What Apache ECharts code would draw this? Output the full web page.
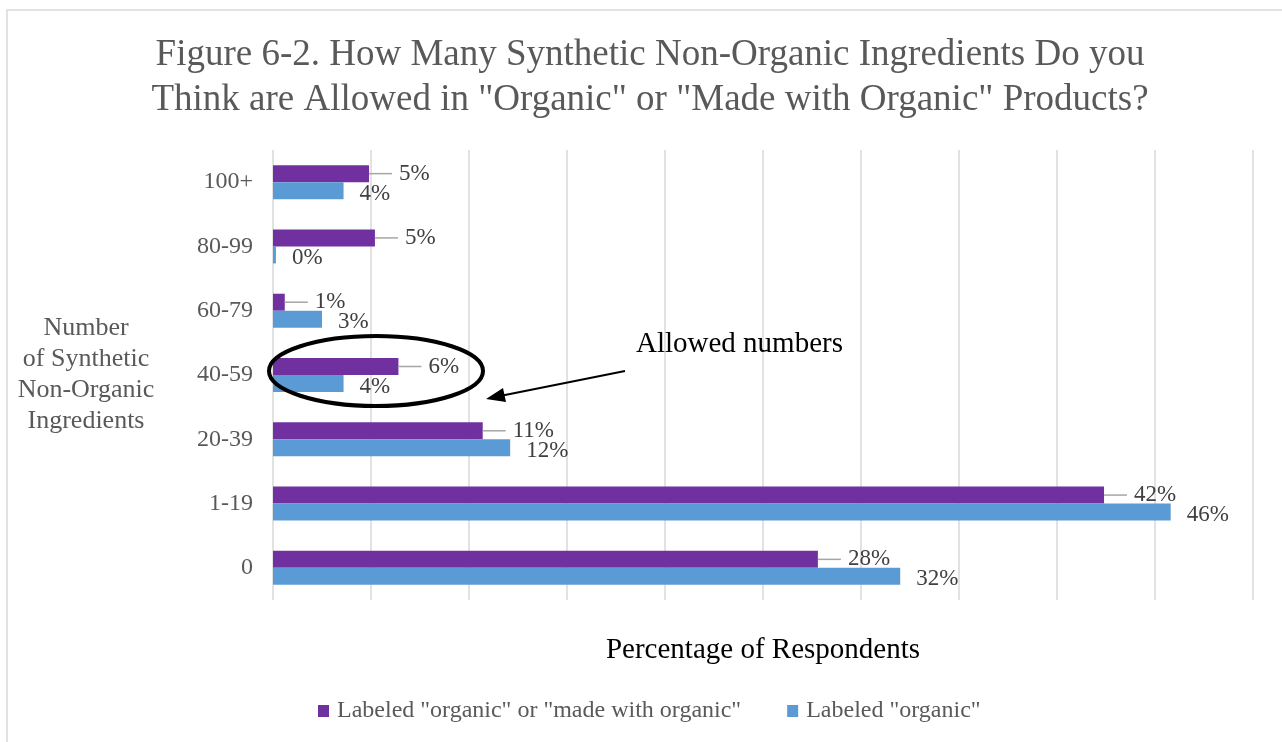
<!DOCTYPE html>
<html>
<head>
<meta charset="utf-8">
<script src="https://cdn.jsdelivr.net/npm/echarts@6/dist/echarts.min.js"></script>
<style>
  html, body { margin: 0; padding: 0; background: #fff; }
  #chart { width: 1282px; height: 742px; }
</style>
</head>
<body>
<div id="chart"></div>
<script>
// data (percent of respondents)
const categories = ['0', '1-19', '20-39', '40-59', '60-79', '80-99', '100+']
const madeWithOrganic = [27.8, 42.4, 10.7, 6.4, 0.6, 5.2, 4.9]
const labeledOrganic = [32.0, 45.8, 12.1, 3.6, 2.5, 0.15, 3.6]
const seriesNames = ['Labeled "organic" or "made with organic"', 'Labeled "organic"']

const FONT = '"Liberation Serif", "Times New Roman", serif'
const GREY_TEXT = '#595959'

const chart = echarts.init(document.getElementById('chart'))

const pct = p => Math.round(p.value) + '%'
// purple labels get a short grey leader line in front of the value
const leaderPct = p => '{ln|}{sp|}{v|' + Math.round(p.value) + '%}'

const option = {
  backgroundColor: '#fff',
  animation: false,
  title: {
    text: 'Figure 6-2. How Many Synthetic Non-Organic Ingredients Do you\nThink are Allowed in "Organic" or "Made with Organic" Products?',
    left: 645,
    textAlign: 'center',
    top: 28,
    textStyle: {
      fontFamily: FONT,
      fontSize: 37,
      fontWeight: 'normal',
      color: GREY_TEXT,
      lineHeight: 45,
    },
  },
  legend: {
    top: 694,
    left: 313,
    itemWidth: 11,
    itemHeight: 12,
    itemGap: 46,
    icon: 'rect',
    textStyle: { fontFamily: FONT, fontSize: 24, color: GREY_TEXT, padding: [0, 0, 0, 3] },
    data: seriesNames,
  },
  grid: {
    left: 273,
    right: 29,
    top: 150,
    bottom: 142,
  },
  xAxis: {
    type: 'value',
    min: 0,
    max: 50,
    interval: 5,
    name: 'Percentage of Respondents',
    nameLocation: 'middle',
    nameGap: 36,
    nameTextStyle: { fontFamily: FONT, fontSize: 29, color: '#000' },
    axisLabel: { show: false },
    axisTick: { show: false },
    axisLine: { show: false },
    splitLine: { lineStyle: { color: '#d9d9d9', width: 1.5 } },
  },
  yAxis: {
    type: 'category',
    data: categories,
    name: 'Number\nof Synthetic\nNon-Organic\nIngredients',
    nameLocation: 'middle',
    nameRotate: 0,
    nameGap: 187,
    nameTextStyle: {
      fontFamily: FONT,
      fontSize: 26,
      color: GREY_TEXT,
      align: 'center',
      lineHeight: 31,
    },
    axisLine: { show: false },
    axisTick: { show: false },
    axisLabel: { fontFamily: FONT, fontSize: 24, color: GREY_TEXT, margin: 20 },
  },
  series: [
    {
      name: seriesNames[0],
      type: 'bar',
      data: madeWithOrganic,
      barWidth: 17,
      barGap: '0%',
      itemStyle: { color: '#7030A0' },
      label: {
        show: true,
        position: 'right',
        distance: 0,
        formatter: leaderPct,
        rich: {
          ln: { width: 23, height: 1.5, backgroundColor: '#a6a6a6' },
          sp: { width: 7 },
          v: { fontFamily: FONT, fontSize: 23, color: '#404040' },
        },
      },
    },
    {
      name: seriesNames[1],
      type: 'bar',
      data: labeledOrganic,
      barWidth: 17,
      barGap: '0%',
      itemStyle: { color: '#5B9BD5' },
      label: {
        show: true,
        position: 'right',
        distance: 16,
        offset: [0, 3],
        formatter: pct,
        fontFamily: FONT,
        fontSize: 23,
        color: '#404040',
      },
    },
  ],
  graphic: [
    {
      type: 'rect',
      shape: { x: 7, y: 10, width: 1290, height: 750 },
      style: { fill: 'none', stroke: '#d9d9d9', lineWidth: 1.5 },
      silent: true,
    },
    {
      type: 'ellipse',
      shape: { cx: 376, cy: 371, rx: 107, ry: 35 },
      style: { fill: 'none', stroke: '#000', lineWidth: 4 },
      z: 100,
    },
    {
      type: 'line',
      shape: { x1: 625, y1: 371, x2: 500, y2: 396 },
      style: { stroke: '#000', lineWidth: 2 },
      z: 100,
    },
    {
      type: 'polygon',
      shape: { points: [[486, 399], [503, 388], [506, 402]] },
      style: { fill: '#000' },
      z: 100,
    },
    {
      type: 'text',
      x: 636,
      y: 330,
      style: {
        text: 'Allowed numbers',
        fontFamily: FONT,
        fontSize: 29,
        fill: '#000',
      },
      z: 100,
    },
  ],
}

chart.setOption(option)
</script>
</body>
</html>
